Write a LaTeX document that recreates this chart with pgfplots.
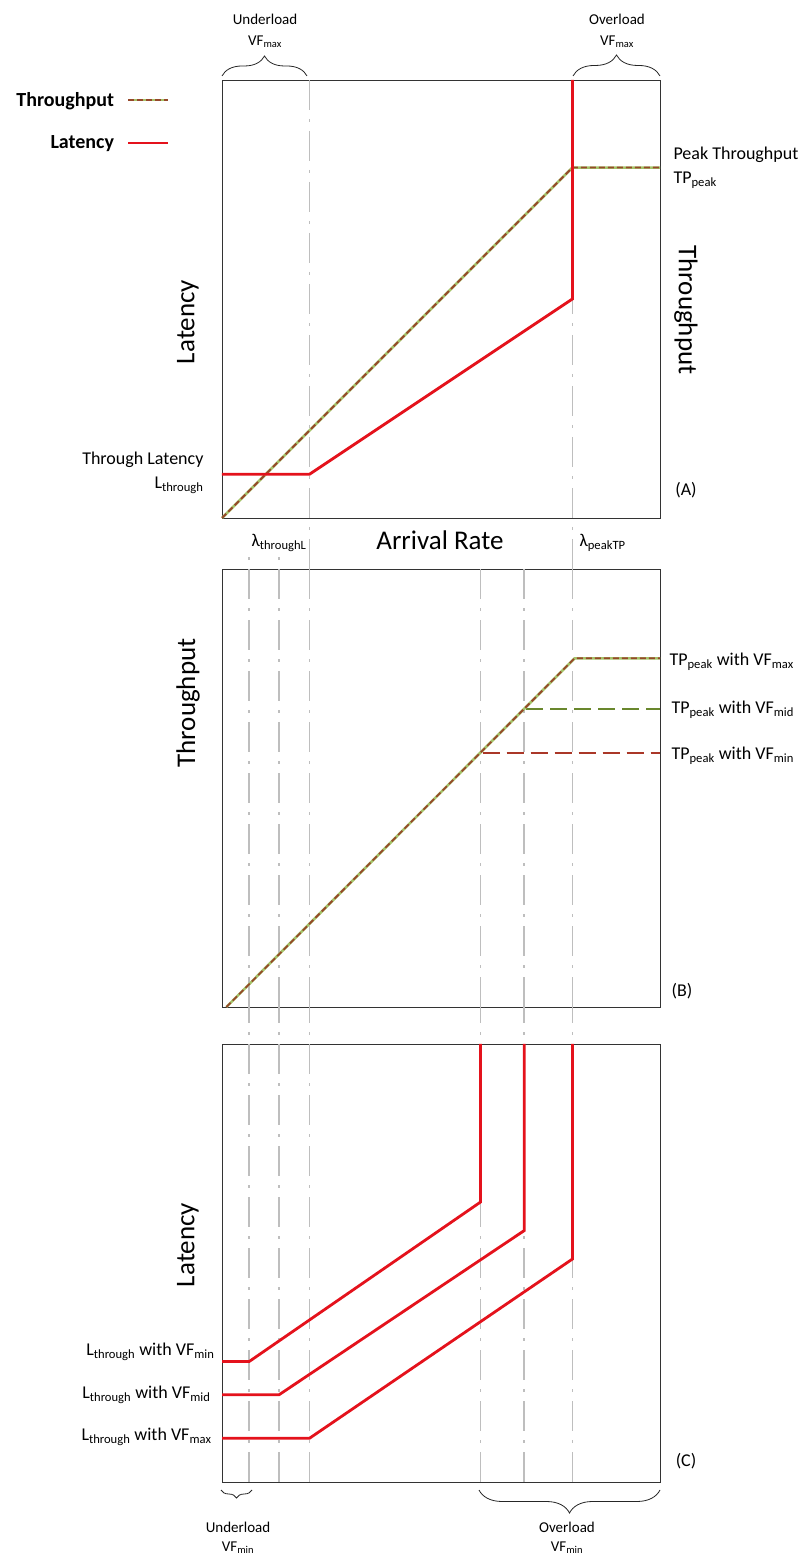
\documentclass[border=0pt]{standalone}
\usepackage{fontspec}
\setmainfont{Carlito}
\usepackage{pgfplots}
\pgfplotsset{compat=1.18}
\usetikzlibrary{decorations.pathreplacing}
\definecolor{latred}{RGB}{228,18,28}
\definecolor{guidegray}{RGB}{190,190,190}
\definecolor{tpgreen}{RGB}{165,195,105}
\definecolor{tpbrown}{RGB}{150,72,42}
\definecolor{midolive}{RGB}{105,135,45}
\definecolor{minred}{RGB}{170,55,40}
\newcommand{\sub}[1]{\textsubscript{#1}}
\newcommand{\fs}[1]{\fontsize{#1pt}{#1pt}\selectfont}
\pgfplotsset{
  panel/.style={scale only axis, width=438pt, height=438pt, xmin=0, xmax=100, ymin=0, ymax=100,
    xtick=\empty, ytick=\empty, clip=false, anchor=south west,
    axis line style={black!80, line width=0.9pt}},
  guide/.style={color=guidegray, line width=1.6pt, dash pattern=on 30pt off 9pt on 3pt off 9pt},
  lat/.style={color=latred, line width=2.8pt},
  tpunder/.style={color=tpgreen, line width=2.6pt},
  tpover/.style={color=tpbrown, line width=1.8pt, dash pattern=on 6pt off 3pt},
}
\begin{document}
\begin{tikzpicture}
\useasboundingbox (0pt,0pt) rectangle (807pt,1556pt);
% ---------------- Panel A
\begin{axis}[panel, at={(222pt,1038pt)},
  legend style={at={(axis description cs:-0.1187,0.977)}, anchor=north east, draw=none, fill=none,
    inner sep=0pt, row sep=24pt, column sep=11pt, font=\fs{20}\bfseries},
  legend cell align=right, legend plot pos=right]
\addlegendimage{legend image code/.code={\draw[tpgreen,line width=2.6pt] (0pt,0pt) -- (40pt,0pt);
  \draw[tpbrown,line width=1.8pt,dash pattern=on 6pt off 3pt] (0pt,0pt) -- (40pt,0pt);}}
\addlegendentry{Throughput}
\addlegendimage{legend image code/.code={\draw[latred,line width=2.8pt] (0pt,0pt) -- (40pt,0pt);}}
\addlegendentry{Latency}
\addplot[guide] coordinates {(20,100) (20,-11.6)};
\addplot[guide] coordinates {(80,100) (80,-11.6)};
\addplot[tpunder] coordinates {(0,0) (80,80) (100,80)};
\addplot[tpover] coordinates {(0,0) (80,80) (100,80)};
\addplot[lat] coordinates {(0,10) (20,10) (80,50) (80,100)};
\end{axis}
% ---------------- Panel B
\begin{axis}[panel, at={(222pt,549pt)}]
\addplot[guide] coordinates {(6.2,0) (6.2,103.65)};
\addplot[guide] coordinates {(13,0) (13,103.65)};
\addplot[guide] coordinates {(20,0) (20,100)};
\addplot[guide] coordinates {(59,0) (59,100)};
\addplot[guide] coordinates {(69,0) (69,100)};
\addplot[guide] coordinates {(80,0) (80,100)};
\addplot[color=tpgreen!70, line width=2.4pt, dash pattern=on 17pt off 7pt] coordinates {(59.5,58) (100,58)};
\addplot[color=minred, line width=1.8pt, dash pattern=on 17pt off 7pt] coordinates {(59.5,58) (100,58)};
\addplot[color=tpgreen!70, line width=2.4pt, dash pattern=on 17pt off 7pt] coordinates {(69.5,68) (100,68)};
\addplot[color=midolive, line width=1.8pt, dash pattern=on 17pt off 7pt] coordinates {(69.5,68) (100,68)};
\addplot[tpunder] coordinates {(1,0) (80.5,79.6) (100,79.6)};
\addplot[tpover] coordinates {(1,0) (80.5,79.6) (100,79.6)};
\end{axis}
% ---------------- Panel C
\begin{axis}[panel, at={(222pt,74pt)}]
\addplot[guide] coordinates {(6.2,0) (6.2,108.45)};
\addplot[guide] coordinates {(13,0) (13,108.45)};
\addplot[guide] coordinates {(20,0) (20,108.45)};
\addplot[guide] coordinates {(59,0) (59,108.45)};
\addplot[guide] coordinates {(69,0) (69,108.45)};
\addplot[guide] coordinates {(80,0) (80,108.45)};
\addplot[lat] coordinates {(0,27.5) (6.2,27.5) (59,63.9) (59,100)};
\addplot[lat] coordinates {(0,19.9) (13,19.9) (69,57.4) (69,100)};
\addplot[lat] coordinates {(0,10) (20,10) (80,50.9) (80,100)};
\end{axis}
% ---------------- annotations
\node[font=\fs{15}] at (265pt,1537pt) {Underload};
\node[font=\fs{15}] at (265pt,1514pt) {VF\sub{max}};
\draw[decorate, decoration={brace, amplitude=20pt}, black!85, line width=0.8pt] (222pt,1480pt) -- (307pt,1480pt);
\node[font=\fs{15}] at (617pt,1537pt) {Overload};
\node[font=\fs{15}] at (617pt,1514pt) {VF\sub{max}};
\draw[decorate, decoration={brace, amplitude=21pt}, black!85, line width=0.8pt] (573pt,1480pt) -- (660pt,1480pt);
\node[font=\fs{15}] at (238pt,29pt) {Underload};
\node[font=\fs{15}] at (238pt,8pt) {VF\sub{min}};
\draw[decorate, decoration={brace, amplitude=8pt}, black!85, line width=0.8pt] (252pt,66pt) -- (221pt,66pt);
\node[font=\fs{15}] at (567pt,29pt) {Overload};
\node[font=\fs{15}] at (567pt,8pt) {VF\sub{min}};
\draw[decorate, decoration={brace, amplitude=23pt}, black!85, line width=0.8pt] (660pt,66pt) -- (479pt,66pt);
% axis titles
\node[font=\fs{27}, rotate=90] at (188pt,1234pt) {Latency};
\node[font=\fs{27}, rotate=-90] at (686pt,1246pt) {Throughput};
\node[font=\fs{27}] at (440pt,1016pt) {Arrival Rate};
\node[font=\fs{27}, rotate=90] at (188pt,853pt) {Throughput};
\node[font=\fs{27}, rotate=90] at (188pt,311pt) {Latency};
% panel A labels
\node[font=\fs{18}, anchor=east] at (207pt,1096pt) {Through Latency};
\node[font=\fs{18}, anchor=east] at (207pt,1071pt) {L\sub{through}};
\node[font=\fs{18}, anchor=west] at (670pt,1401pt) {Peak Throughput};
\node[font=\fs{18}, anchor=west] at (670pt,1376pt) {TP\sub{peak}};
\node[font=\fs{18}] at (686pt,1066pt) {(A)};
\node[font=\fs{18}, anchor=west] at (248pt,1013pt) {λ\sub{throughL}};
\node[font=\fs{18}, anchor=west] at (576pt,1013pt) {λ\sub{peakTP}};
% panel B labels
\node[font=\fs{18}, anchor=west] at (666pt,894pt) {TP\sub{peak} with VF\sub{max}};
\node[font=\fs{18}, anchor=west] at (668pt,846pt) {TP\sub{peak} with VF\sub{mid}};
\node[font=\fs{18}, anchor=west] at (668pt,800pt) {TP\sub{peak} with VF\sub{min}};
\node[font=\fs{18}] at (682pt,565pt) {(B)};
% panel C labels
\node[font=\fs{18}, anchor=east] at (218pt,204pt) {L\sub{through} with VF\sub{min}};
\node[font=\fs{18}, anchor=east] at (214pt,161pt) {L\sub{through} with VF\sub{mid}};
\node[font=\fs{18}, anchor=east] at (215pt,119pt) {L\sub{through} with VF\sub{max}};
\node[font=\fs{18}] at (686pt,95pt) {(C)};
\end{tikzpicture}
\end{document}
